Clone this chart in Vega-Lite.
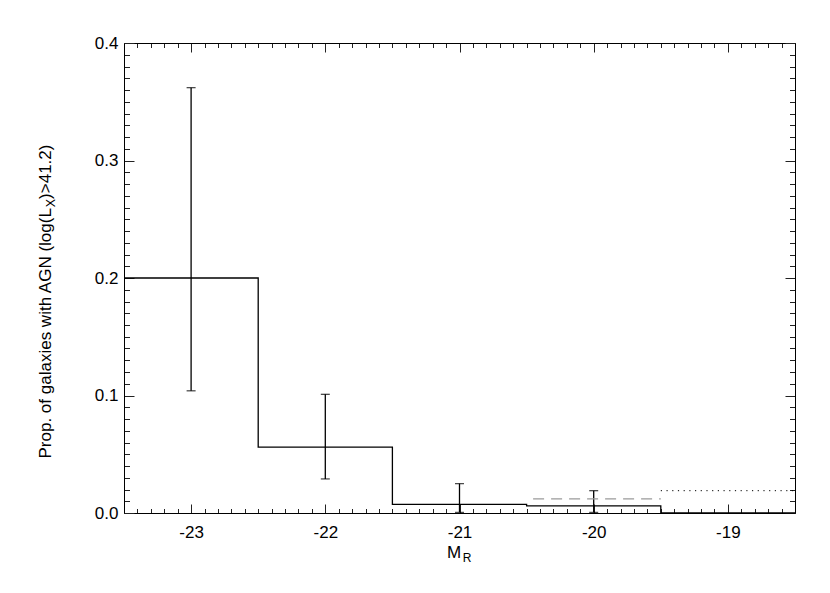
{
  "$schema": "https://vega.github.io/schema/vega-lite/v6.json",
  "width": 671,
  "height": 470,
  "autosize": {"type": "none"},
  "padding": {"left": 124, "top": 43, "right": 35, "bottom": 80},
  "background": "white",
  "config": {
    "view": {"stroke": null},
    "axis": {
      "grid": false,
      "labelFont": "Liberation Sans",
      "titleFont": "Liberation Sans",
      "labelFontSize": 17,
      "titleFontSize": 17,
      "titleFontWeight": "normal",
      "labelColor": "black",
      "titleColor": "black",
      "domainColor": "black",
      "domainWidth": 1,
      "tickColor": "#222",
      "tickWidth": 1
    }
  },
  "datasets": {
    "hist": [
      {"mr_lo": -23.5, "prop": 0.2},
      {"mr_lo": -22.5, "prop": 0.056},
      {"mr_lo": -21.5, "prop": 0.0073},
      {"mr_lo": -20.5, "prop": 0.006},
      {"mr_lo": -19.5, "prop": 0},
      {"mr_lo": -18.5, "prop": 0}
    ],
    "err": [
      {"mr": -23, "lo": 0.104, "hi": 0.362},
      {"mr": -22, "lo": 0.029, "hi": 0.101},
      {"mr": -21, "lo": 0.0005, "hi": 0.025},
      {"mr": -20, "lo": 0.0005, "hi": 0.019}
    ],
    "limits": [
      {"from": -20.5, "to": -19.5, "prop": 0.012, "style": "dashed"},
      {"from": -19.5, "to": -18.5, "prop": 0.019, "style": "dotted"}
    ]
  },
  "layer": [
    {
      "data": {"name": "hist"},
      "mark": {"type": "line", "interpolate": "step-after", "color": "black", "strokeWidth": 1.3},
      "encoding": {
        "x": {
          "field": "mr_lo", "type": "quantitative",
          "scale": {"domain": [-23.5, -18.5], "nice": false, "zero": false},
          "axis": {
            "orient": "bottom", "labels": false, "domain": true,
            "values": [-23.5,-23.4,-23.3,-23.2,-23.1,-23.0,-22.9,-22.8,-22.7,-22.6,-22.5,-22.4,-22.3,-22.2,-22.1,-22.0,-21.9,-21.8,-21.7,-21.6,-21.5,-21.4,-21.3,-21.2,-21.1,-21.0,-20.9,-20.8,-20.7,-20.6,-20.5,-20.4,-20.3,-20.2,-20.1,-20.0,-19.9,-19.8,-19.7,-19.6,-19.5,-19.4,-19.3,-19.2,-19.1,-19.0,-18.9,-18.8,-18.7,-18.6,-18.5],
            "tickSize": {"condition": {"test": "abs(datum.value - round(datum.value)) < 0.01", "value": -9}, "value": -4.5},
            "title": "R", "titleFontSize": 12, "titleX": 342.5, "titleY": 48.7,
            "titleAlign": "center", "titleBaseline": "alphabetic"
          }
        },
        "y": {
          "field": "prop", "type": "quantitative",
          "scale": {"domain": [0, 0.4], "nice": false, "zero": false},
          "axis": {
            "orient": "left", "labels": false, "domain": true,
            "values": [0,0.01,0.02,0.03,0.04,0.05,0.06,0.07,0.08,0.09,0.1,0.11,0.12,0.13,0.14,0.15,0.16,0.17,0.18,0.19,0.2,0.21,0.22,0.23,0.24,0.25,0.26,0.27,0.28,0.29,0.3,0.31,0.32,0.33,0.34,0.35,0.36,0.37,0.38,0.39,0.4],
            "tickSize": {"condition": {"test": "abs(datum.value*10 - round(datum.value*10)) < 0.01", "value": -10}, "value": -5.5},
            "title": "Prop. of galaxies with AGN (log(L", "titleAngle": 270,
            "titleX": -74, "titleY": 415, "titleAlign": "left", "titleBaseline": "alphabetic"
          }
        }
      }
    },
    {
      "data": {"name": "err"},
      "mark": {"type": "rule", "color": "black", "strokeWidth": 1.3},
      "encoding": {
        "x": {
          "field": "mr", "type": "quantitative",
          "axis": {
            "orient": "bottom", "ticks": false, "domain": false,
            "values": [-23, -22, -21, -20, -19], "labelExpr": "'' + datum.value", "labelPadding": 11,
            "title": "M", "titleX": 329.5, "titleY": 44, "titleAlign": "center", "titleBaseline": "alphabetic"
          }
        },
        "y": {
          "field": "lo", "type": "quantitative",
          "axis": {
            "orient": "left", "ticks": false, "domain": false,
            "values": [0, 0.1, 0.2, 0.3, 0.4], "format": ".1f", "labelPadding": 6,
            "title": "X", "titleFontSize": 12.5, "titleAngle": 270,
            "titleX": -70, "titleY": 163.7, "titleAlign": "left", "titleBaseline": "alphabetic"
          }
        },
        "y2": {"field": "hi"}
      }
    },
    {
      "data": {"name": "err"},
      "mark": {"type": "tick", "orient": "horizontal", "color": "black", "size": 9, "thickness": 1.3},
      "encoding": {
        "x": {
          "field": "mr", "type": "quantitative",
          "axis": {
            "orient": "top", "labels": false, "domain": true, "title": null,
            "values": [-23.5,-23.4,-23.3,-23.2,-23.1,-23.0,-22.9,-22.8,-22.7,-22.6,-22.5,-22.4,-22.3,-22.2,-22.1,-22.0,-21.9,-21.8,-21.7,-21.6,-21.5,-21.4,-21.3,-21.2,-21.1,-21.0,-20.9,-20.8,-20.7,-20.6,-20.5,-20.4,-20.3,-20.2,-20.1,-20.0,-19.9,-19.8,-19.7,-19.6,-19.5,-19.4,-19.3,-19.2,-19.1,-19.0,-18.9,-18.8,-18.7,-18.6,-18.5],
            "tickSize": {"condition": {"test": "abs(datum.value - round(datum.value)) < 0.01", "value": -9}, "value": -4.5}
          }
        },
        "y": {
          "field": "hi", "type": "quantitative",
          "axis": {
            "orient": "right", "labels": false, "domain": true, "title": null,
            "values": [0,0.01,0.02,0.03,0.04,0.05,0.06,0.07,0.08,0.09,0.1,0.11,0.12,0.13,0.14,0.15,0.16,0.17,0.18,0.19,0.2,0.21,0.22,0.23,0.24,0.25,0.26,0.27,0.28,0.29,0.3,0.31,0.32,0.33,0.34,0.35,0.36,0.37,0.38,0.39,0.4],
            "tickSize": {"condition": {"test": "abs(datum.value*10 - round(datum.value*10)) < 0.01", "value": -10}, "value": -5.5}
          }
        }
      }
    },
    {
      "data": {"name": "err"},
      "mark": {"type": "tick", "orient": "horizontal", "color": "black", "size": 9, "thickness": 1.3},
      "encoding": {
        "x": {"field": "mr", "type": "quantitative", "axis": null},
        "y": {
          "field": "lo", "type": "quantitative",
          "axis": {
            "orient": "left", "labels": false, "ticks": false, "domain": false,
            "title": ")>41.2)", "titleAngle": 270,
            "titleX": -74, "titleY": 155.4, "titleAlign": "left", "titleBaseline": "alphabetic"
          }
        }
      }
    },
    {
      "data": {"name": "limits"},
      "transform": [{"filter": "datum.style === 'dashed'"}],
      "mark": {"type": "rule", "color": "#9a9a9a", "strokeWidth": 1.3, "strokeDash": [11, 7], "strokeDashOffset": 11.5},
      "encoding": {
        "x": {"field": "from", "type": "quantitative", "axis": null},
        "x2": {"field": "to"},
        "y": {"field": "prop", "type": "quantitative", "axis": null}
      }
    },
    {
      "data": {"name": "limits"},
      "transform": [{"filter": "datum.style === 'dotted'"}],
      "mark": {"type": "rule", "color": "black", "strokeWidth": 1, "strokeDash": [1.2, 4.5]},
      "encoding": {
        "x": {"field": "from", "type": "quantitative", "axis": null},
        "x2": {"field": "to"},
        "y": {"field": "prop", "type": "quantitative", "axis": null}
      }
    }
  ],
  "resolve": {"axis": {"x": "independent", "y": "independent"}}
}
